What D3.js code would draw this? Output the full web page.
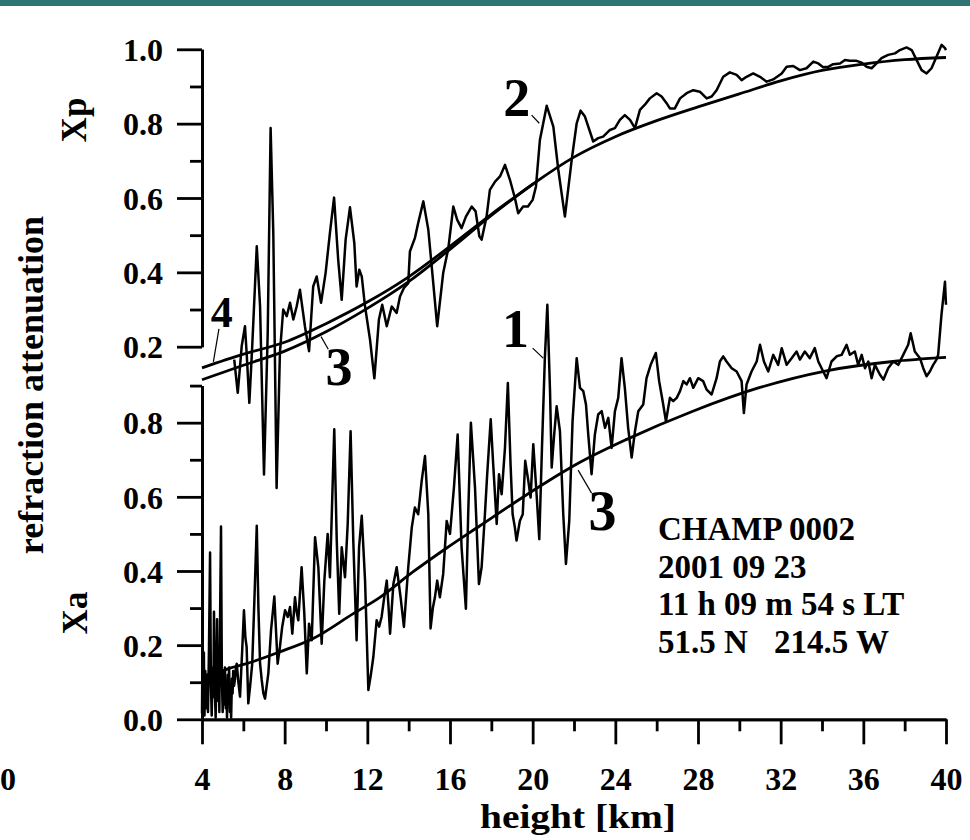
<!DOCTYPE html>
<html><head><meta charset="utf-8">
<script src="https://cdn.jsdelivr.net/npm/d3@7"></script>
<style>
html,body{margin:0;padding:0;background:#fff;}
svg{display:block;}
text{font-family:"Liberation Serif","Times New Roman",serif;font-weight:bold;fill:#000;}
</style></head><body>
<svg id="chart" width="970" height="840"></svg>
<script>
// ---------------- data ----------------
const xTicksMajor = [4,8,12,16,20,24,28,32,36,40];
const xTicksMinor = [6,10,14,18,22,26,30,34,38];
const upTicksMajor = [0.2,0.4,0.6,0.8,1.0];
const upTicksMinor = [0.3,0.5,0.7,0.9];
const loTicksMajor = [0,0.2,0.4,0.6,0.8];
const loTicksMinor = [0.1,0.3,0.5,0.7,0.9];

// curve 2: measured Xp (phase), [height km, value]
const xpMeasured = [[5.56,0.165],[5.73,0.076],[5.84,0.147],[5.92,0.201],[6.08,0.255],[6.16,0.183],[6.29,0.049],[6.43,0.201],[6.65,0.470],[6.81,0.308],[7.00,-0.144],[7.18,0.237],[7.32,0.788],[7.45,0.506],[7.61,-0.180],[7.77,0.183],[7.93,0.300],[8.10,0.282],[8.26,0.318],[8.42,0.273],[8.58,0.308],[8.74,0.353],[8.85,0.308],[8.98,0.255],[9.18,0.188],[9.38,0.362],[9.55,0.389],[9.76,0.318],[9.98,0.398],[10.19,0.506],[10.39,0.601],[10.59,0.434],[10.76,0.326],[10.95,0.488],[11.16,0.575],[11.37,0.479],[11.48,0.362],[11.61,0.407],[11.73,0.389],[11.89,0.308],[12.13,0.219],[12.34,0.115],[12.56,0.273],[12.72,0.313],[12.94,0.255],[13.18,0.308],[13.42,0.291],[13.58,0.335],[13.77,0.358],[13.98,0.371],[14.06,0.456],[14.30,0.492],[14.46,0.533],[14.71,0.591],[14.95,0.515],[15.19,0.371],[15.38,0.255],[15.67,0.398],[15.92,0.465],[16.16,0.577],[16.35,0.541],[16.56,0.519],[16.77,0.550],[17.05,0.577],[17.24,0.564],[17.42,0.497],[17.53,0.488],[17.77,0.550],[17.93,0.622],[18.18,0.644],[18.42,0.658],[18.66,0.689],[18.90,0.649],[19.14,0.600],[19.30,0.559],[19.54,0.577],[19.77,0.577],[20.00,0.595],[20.16,0.631],[20.35,0.756],[20.68,0.848],[21.00,0.792],[21.24,0.676],[21.56,0.550],[21.89,0.703],[22.13,0.801],[22.32,0.835],[22.53,0.819],[22.93,0.752],[23.17,0.761],[23.41,0.765],[23.74,0.783],[23.98,0.788],[24.22,0.810],[24.46,0.823],[24.71,0.810],[24.95,0.788],[25.19,0.837],[25.43,0.851],[25.67,0.868],[26.00,0.882],[26.24,0.873],[26.48,0.855],[26.64,0.841],[26.88,0.841],[27.13,0.868],[27.45,0.882],[27.77,0.890],[28.09,0.886],[28.42,0.868],[28.66,0.873],[28.90,0.890],[29.22,0.926],[29.54,0.938],[29.87,0.931],[30.11,0.917],[30.35,0.926],[30.67,0.935],[31.00,0.926],[31.32,0.913],[31.64,0.919],[32.05,0.935],[32.29,0.953],[32.61,0.955],[32.93,0.944],[33.25,0.949],[33.58,0.967],[33.82,0.962],[34.06,0.952],[34.30,0.953],[34.54,0.960],[34.87,0.962],[35.11,0.971],[35.35,0.969],[35.67,0.969],[35.92,0.964],[36.16,0.953],[36.40,0.949],[36.64,0.962],[36.88,0.976],[37.20,0.985],[37.53,0.989],[37.77,0.998],[38.09,1.005],[38.34,0.998],[38.58,0.971],[38.82,0.944],[39.06,0.935],[39.30,0.949],[39.54,0.980],[39.79,1.012],[39.95,1.003],[40.00,0.998]];

// curve 1: measured Xa (amplitude), [height km, value]
const xaMeasured = [[4.00,0.016],[4.03,0.24],[4.06,0.05],[4.09,0.18],[4.12,0.01],[4.16,0.13],[4.21,0.03],[4.25,0.12],[4.29,0.02],[4.34,0.20],[4.39,0.45],[4.43,0.10],[4.47,0.01],[4.51,0.14],[4.55,0.06],[4.58,0.29],[4.62,0.08],[4.66,0.005],[4.70,0.12],[4.73,0.27],[4.77,0.05],[4.80,0.15],[4.84,0.02],[4.88,0.30],[4.92,0.52],[4.96,0.12],[5.00,0.02],[5.04,0.13],[5.08,0.04],[5.11,0.14],[5.15,0.03],[5.18,0.10],[5.21,0.005],[5.25,0.12],[5.28,0.06],[5.31,0.14],[5.35,0.02],[5.38,0.09],[5.41,0.005],[5.45,0.11],[5.48,0.07],[5.51,0.13],[5.55,0.09],[5.60,0.11],[5.64,0.14],[5.68,0.15],[5.76,0.10],[5.84,0.061],[5.94,0.18],[6.03,0.294],[6.10,0.22],[6.16,0.195],[6.24,0.043],[6.33,0.09],[6.43,0.150],[6.54,0.33],[6.65,0.522],[6.73,0.30],[6.81,0.150],[6.89,0.106],[6.97,0.07],[7.05,0.056],[7.13,0.09],[7.21,0.124],[7.34,0.240],[7.50,0.331],[7.58,0.24],[7.66,0.150],[7.77,0.195],[7.88,0.249],[8.02,0.294],[8.15,0.276],[8.26,0.303],[8.37,0.231],[8.50,0.329],[8.58,0.29],[8.66,0.267],[8.82,0.410],[8.95,0.285],[9.07,0.124],[9.18,0.258],[9.31,0.213],[9.47,0.491],[9.63,0.410],[9.79,0.204],[9.92,0.374],[10.08,0.500],[10.19,0.383],[10.40,0.782],[10.52,0.482],[10.64,0.285],[10.76,0.464],[10.92,0.383],[11.05,0.527],[11.19,0.777],[11.32,0.482],[11.48,0.213],[11.60,0.464],[11.73,0.549],[11.89,0.374],[12.05,0.079],[12.17,0.12],[12.29,0.168],[12.45,0.267],[12.57,0.25],[12.69,0.276],[12.82,0.33],[12.94,0.374],[13.03,0.30],[13.10,0.231],[13.26,0.365],[13.42,0.410],[13.61,0.329],[13.77,0.249],[13.98,0.410],[14.15,0.517],[14.30,0.571],[14.46,0.553],[14.63,0.643],[14.79,0.710],[14.95,0.553],[15.06,0.245],[15.17,0.30],[15.27,0.329],[15.38,0.374],[15.51,0.329],[15.67,0.392],[15.84,0.535],[16.00,0.500],[16.19,0.625],[16.37,0.768],[16.56,0.464],[16.77,0.298],[16.88,0.553],[17.01,0.800],[17.21,0.625],[17.40,0.365],[17.53,0.410],[17.69,0.553],[17.80,0.661],[17.97,0.809],[18.09,0.688],[18.26,0.527],[18.37,0.661],[18.50,0.607],[18.66,0.732],[18.80,0.907],[18.93,0.688],[19.03,0.553],[19.14,0.517],[19.22,0.482],[19.38,0.535],[19.52,0.553],[19.64,0.697],[19.79,0.643],[19.90,0.598],[20.03,0.742],[20.19,0.607],[20.32,0.486],[20.45,0.732],[20.59,0.974],[20.71,1.118],[20.84,0.885],[20.92,0.679],[21.04,0.768],[21.16,0.844],[21.32,0.777],[21.48,0.553],[21.61,0.419],[21.77,0.535],[21.93,0.804],[22.13,0.974],[22.29,0.894],[22.45,0.885],[22.58,0.849],[22.69,0.768],[22.85,0.661],[23.01,0.768],[23.17,0.822],[23.34,0.831],[23.50,0.786],[23.66,0.813],[23.82,0.732],[23.98,0.831],[24.14,0.867],[24.30,0.974],[24.46,0.894],[24.62,0.786],[24.79,0.706],[24.95,0.777],[25.11,0.831],[25.35,0.849],[25.51,0.920],[25.71,0.956],[25.96,0.988],[26.12,0.912],[26.29,0.858],[26.45,0.804],[26.64,0.867],[26.80,0.858],[26.97,0.867],[27.13,0.885],[27.29,0.912],[27.45,0.903],[27.61,0.920],[27.77,0.894],[28.01,0.920],[28.25,0.912],[28.42,0.889],[28.66,0.876],[28.90,0.920],[29.06,0.965],[29.22,0.979],[29.38,0.965],[29.63,0.947],[29.87,0.938],[30.11,0.912],[30.22,0.826],[30.35,0.903],[30.59,0.938],[30.84,0.965],[31.00,1.010],[31.19,0.965],[31.40,0.938],[31.64,0.983],[31.88,0.956],[32.05,1.001],[32.29,0.956],[32.53,0.974],[32.77,0.992],[32.93,0.970],[33.17,0.992],[33.41,0.974],[33.65,1.001],[33.82,0.965],[34.06,0.938],[34.22,0.920],[34.46,0.965],[34.71,0.979],[34.95,0.983],[35.19,1.010],[35.35,0.983],[35.59,0.992],[35.75,0.956],[35.92,0.983],[36.08,0.947],[36.24,0.965],[36.40,0.920],[36.56,0.956],[36.80,0.930],[36.97,0.916],[37.20,0.947],[37.45,0.965],[37.69,0.956],[37.93,0.983],[38.17,1.010],[38.29,1.041],[38.49,0.992],[38.74,0.974],[38.90,0.947],[39.06,0.925],[39.22,0.938],[39.38,0.956],[39.54,0.970],[39.62,0.983],[39.78,1.091],[39.95,1.180],[40.00,1.118]];

// curve 3 (upper): model Xp
const xpModel = [[4,0.111],[6,0.150],[8,0.188],[10,0.240],[12,0.303],[14,0.375],[16,0.462],[18,0.553],[20,0.637],[22,0.710],[24,0.765],[26,0.808],[28,0.845],[30,0.880],[32,0.915],[34,0.943],[36,0.960],[38,0.972],[40,0.978]];
// curve 4 (upper): second model Xp
const xpModel4 = [[4,0.143],[6,0.180],[8,0.212],[10,0.262],[12,0.320],[14,0.388],[16,0.470],[18,0.556],[20,0.637]];
// curve 3 (lower): model Xa
const xaModel = [[4,0.105],[5.35,0.138],[6.16,0.150],[7.77,0.182],[9.38,0.218],[11.32,0.285],[12.61,0.329],[14.22,0.398],[15.84,0.462],[17.45,0.522],[19.06,0.582],[20.68,0.640],[22.29,0.693],[24.55,0.755],[27.75,0.831],[31,0.895],[34.22,0.940],[37.43,0.965],[40,0.976]];

const infoLines = ["CHAMP 0002", "2001 09 23", "11 h 09 m 54 s LT"];
const infoLat = "51.5 N";
const infoLon = "214.5 W";

// ---------------- drawing ----------------
const svg = d3.select("#chart");
svg.append("rect").attr("x",0).attr("y",0).attr("width",970).attr("height",840).attr("fill","#fff");
svg.append("rect").attr("x",0).attr("y",0).attr("width",970).attr("height",6).attr("fill","#2d7473");

const x = d3.scaleLinear().domain([4,40]).range([202,946]);
const yUp = d3.scaleLinear().domain([0.2,1.0]).range([346.7,49.3]);
const yLo = d3.scaleLinear().domain([0,0.9]).range([719.3,385.6]);

function styleAxis(g){
  g.selectAll("path.domain").attr("stroke","#000").attr("stroke-width",2.8);
  g.selectAll(".tick line").attr("stroke","#000").attr("stroke-width",2.8);
  g.selectAll("text").attr("font-size",32).attr("font-family",'"Liberation Serif","Times New Roman",serif').attr("font-weight","bold").attr("fill","#000");
}
const fmt = d3.format(".1f");

// upper y axis
const gUp = svg.append("g").attr("transform","translate(202,0)");
gUp.call(d3.axisLeft(yUp).tickValues(upTicksMajor).tickSize(25).tickSizeOuter(0).tickPadding(14).tickFormat(fmt));
gUp.selectAll("text").attr("dy","0.35em");
styleAxis(gUp);
const gUpMin = svg.append("g").attr("transform","translate(202,0)");
gUpMin.call(d3.axisLeft(yUp).tickValues(upTicksMinor).tickSize(12).tickSizeOuter(0).tickFormat(""));
styleAxis(gUpMin);

// lower y axis
const gLo = svg.append("g").attr("transform","translate(202,0)");
gLo.call(d3.axisLeft(yLo).tickValues(loTicksMajor).tickSize(25).tickSizeOuter(0).tickPadding(14).tickFormat(fmt));
gLo.selectAll("text").attr("dy","0.35em");
styleAxis(gLo);
const gLoMin = svg.append("g").attr("transform","translate(202,0)");
gLoMin.call(d3.axisLeft(yLo).tickValues(loTicksMinor).tickSize(12).tickSizeOuter(0).tickFormat(""));
styleAxis(gLoMin);

// x axis
const gX = svg.append("g").attr("transform","translate(0,719.3)");
gX.call(d3.axisBottom(x).tickValues(xTicksMajor).tickSize(25).tickSizeOuter(0).tickFormat(d3.format("d")));
gX.selectAll("text").attr("y",71).attr("dy",null);
styleAxis(gX);
const gXMin = svg.append("g").attr("transform","translate(0,719.3)");
gXMin.call(d3.axisBottom(x).tickValues(xTicksMinor).tickSize(12).tickSizeOuter(0).tickFormat(""));
styleAxis(gXMin);

// axis titles
svg.append("text").attr("x",578).attr("y",828).attr("text-anchor","middle")
  .attr("font-size",34).attr("textLength",196).attr("lengthAdjust","spacingAndGlyphs").text("height [km]");
svg.append("text").attr("transform","translate(43,385) rotate(-90)").attr("text-anchor","middle")
  .attr("font-size",36).text("refraction attenuation");
svg.append("text").attr("transform","translate(86,120) rotate(-90)").attr("text-anchor","middle")
  .attr("font-size",35).text("Xp");
svg.append("text").attr("transform","translate(87,613) rotate(-90)").attr("text-anchor","middle")
  .attr("font-size",35).text("Xa");
svg.append("text").attr("x",0).attr("y",790).attr("text-anchor","start").attr("font-size",32).text("0");

// lines
const lineUp = d3.line().x(d=>x(d[0])).y(d=>yUp(d[1]));
const lineLo = d3.line().x(d=>x(d[0])).y(d=>yLo(d[1]));
const smoothUp = d3.line().curve(d3.curveMonotoneX).x(d=>x(d[0])).y(d=>yUp(d[1]));
const smoothLo = d3.line().curve(d3.curveMonotoneX).x(d=>x(d[0])).y(d=>yLo(d[1]));

function drawPath(data, gen, w){
  svg.append("path").datum(data).attr("d",gen).attr("fill","none")
    .attr("stroke","#000").attr("stroke-width",w).attr("stroke-linejoin","round");
}
drawPath(xpModel4, smoothUp, 2.8);
drawPath(xpModel, smoothUp, 2.8);
drawPath(xaModel, smoothLo, 2.8);
drawPath(xpMeasured, lineUp, 2.5);
drawPath(xaMeasured, lineLo, 2.5);

// curve labels with pointer lines (in data coordinates)
function pointer(h1,v1,h2,v2,ys){
  svg.append("line").attr("x1",x(h1)).attr("y1",ys(v1)).attr("x2",x(h2)).attr("y2",ys(v2))
    .attr("stroke","#000").attr("stroke-width",1.2);
}
function label(t,h,v,ys,size){
  svg.append("text").attr("x",x(h)).attr("y",ys(v)).attr("font-size",size).text(t);
}
pointer(4.82,0.248,4.55,0.159,yUp);  label("4",4.42,0.254,yUp,44);
pointer(9.76,0.227,10.11,0.193,yUp); label("3",9.98,0.097,yUp,54);
pointer(19.95,0.823,20.32,0.801,yUp); label("2",18.58,0.820,yUp,54);
pointer(20.0,1.001,20.51,0.974,yLo); label("1",18.52,1.004,yLo,54);
pointer(22.2,0.672,22.85,0.610,yLo); label("3",22.7,0.511,yLo,56);

// info block
const info = svg.append("g");
infoLines.forEach((t,i)=>{
  info.append("text").attr("x",658).attr("y",540+i*37.7).attr("font-size",33).text(t);
});
info.append("text").attr("x",658).attr("y",653.3).attr("font-size",33).text(infoLat);
info.append("text").attr("x",774).attr("y",653.3).attr("font-size",33).text(infoLon);
</script>
</body></html>
